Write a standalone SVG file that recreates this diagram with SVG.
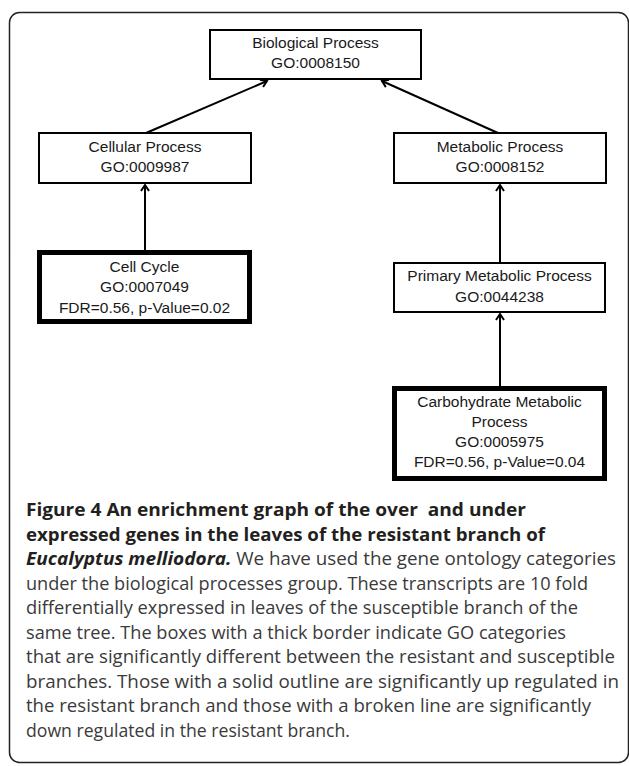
<svg xmlns="http://www.w3.org/2000/svg" width="629" height="766" viewBox="0 0 629 766">
<style>
.frame{fill:none;stroke:#222;stroke-width:1.5}
.box{fill:#fff;stroke:#000;stroke-width:2}
.thick{fill:#fff;stroke:#000;stroke-width:5}
.lbl{font-family:"Liberation Sans",Arial,sans-serif;font-size:15.5px;fill:#1a1a1a;text-anchor:middle}
.edge{stroke:#000;stroke-width:2;fill:none;marker-end:url(#arr)}
.cap{font-family:"Open Sans","Noto Sans",sans-serif;font-size:17.8px;fill:#3a3a3a}
.capb{font-family:"Open Sans","Noto Sans",sans-serif;font-size:18px;font-weight:bold;fill:#231f20}
</style>
<defs>
<marker id="arr" markerUnits="userSpaceOnUse" viewBox="-8 -6 10 12" refX="0" refY="0" markerWidth="10" markerHeight="12" orient="auto">
<path d="M-6,-4 L0,0 L-6,4" fill="none" stroke="#000" stroke-width="2"/>
</marker>
</defs>
<rect width="629" height="766" fill="#fff"/>
<rect class="frame" x="9.5" y="12.5" width="619" height="750" rx="10"/>

<g id="connectors">
<line class="edge" x1="146" y1="133" x2="267" y2="81"/>
<line class="edge" x1="498" y1="133" x2="382" y2="81"/>
<line class="edge" x1="145" y1="250" x2="145" y2="185"/>
<line class="edge" x1="500" y1="263" x2="500" y2="185"/>
<line class="edge" x1="500" y1="386" x2="500" y2="314"/>
</g>

<g id="bio">
<rect class="box" x="210" y="30" width="211" height="49"/>
<text class="lbl" x="315.5" y="48">Biological Process</text>
<text class="lbl" x="315.5" y="68">GO:0008150</text>
</g>
<g id="cellular">
<rect class="box" x="39" y="133" width="212" height="50"/>
<text class="lbl" x="145" y="151.5">Cellular Process</text>
<text class="lbl" x="145" y="172">GO:0009987</text>
</g>
<g id="metabolic">
<rect class="box" x="394" y="133" width="212" height="50"/>
<text class="lbl" x="500" y="151.5">Metabolic Process</text>
<text class="lbl" x="500" y="172">GO:0008152</text>
</g>
<g id="cellcycle">
<rect class="thick" x="39.5" y="252.5" width="210" height="69"/>
<text class="lbl" x="144.5" y="271.5">Cell Cycle</text>
<text class="lbl" x="144.5" y="292">GO:0007049</text>
<text class="lbl" x="144.5" y="313">FDR=0.56, p-Value=0.02</text>
</g>
<g id="primary">
<rect class="box" x="394" y="263" width="211" height="49"/>
<text class="lbl" x="499.5" y="281">Primary Metabolic Process</text>
<text class="lbl" x="499.5" y="302">GO:0044238</text>
</g>
<g id="carbohydrate">
<rect class="thick" x="394.5" y="388.5" width="210" height="90"/>
<text class="lbl" x="499.5" y="406.5">Carbohydrate Metabolic</text>
<text class="lbl" x="499.5" y="426.5">Process</text>
<text class="lbl" x="499.5" y="446.5">GO:0005975</text>
<text class="lbl" x="499.5" y="467">FDR=0.56, p-Value=0.04</text>
</g>

<g id="caption">
<text class="capb" x="26" y="516" textLength="500" lengthAdjust="spacingAndGlyphs">Figure 4 An enrichment graph of the over&#160; and under</text>
<text class="capb" x="26" y="540.5" textLength="519" lengthAdjust="spacingAndGlyphs">expressed genes in the leaves of the resistant branch of</text>
<text class="cap" x="26" y="565" textLength="590" lengthAdjust="spacingAndGlyphs"><tspan class="capb" font-style="italic">Eucalyptus melliodora.</tspan> We have used the gene ontology categories</text>
<text class="cap" x="26" y="589.5" textLength="562" lengthAdjust="spacingAndGlyphs">under the biological processes group. These transcripts are 10 fold</text>
<text class="cap" x="26" y="614" textLength="552" lengthAdjust="spacingAndGlyphs">differentially expressed in leaves of the susceptible branch of the</text>
<text class="cap" x="26" y="638.5" textLength="540" lengthAdjust="spacingAndGlyphs">same tree. The boxes with a thick border indicate GO categories</text>
<text class="cap" x="26" y="663" textLength="589" lengthAdjust="spacingAndGlyphs">that are significantly different between the resistant and susceptible</text>
<text class="cap" x="26" y="687.5" textLength="593" lengthAdjust="spacingAndGlyphs">branches. Those with a solid outline are significantly up regulated in</text>
<text class="cap" x="26" y="712" textLength="565" lengthAdjust="spacingAndGlyphs">the resistant branch and those with a broken line are significantly</text>
<text class="cap" x="26" y="736.5" textLength="324" lengthAdjust="spacingAndGlyphs">down regulated in the resistant branch.</text>
</g>
</svg>
